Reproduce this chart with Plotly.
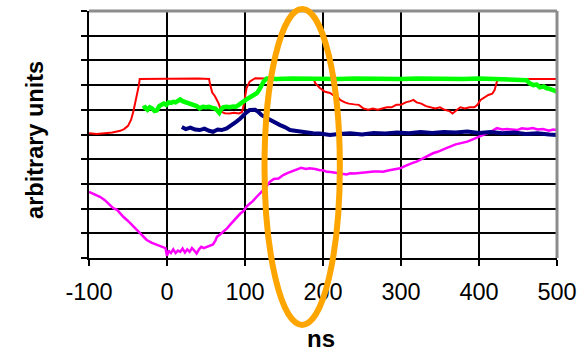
import plotly.graph_objects as go

# ---- data ----
red_x = [-100, -90, -80, -70, -60, -55, -50, -46, -43, -40, -38, -36, -35, -20, 0, 20, 40, 54,
         55, 58, 61.5, 66, 70, 74, 80, 86, 92, 96, 98, 102, 106, 113, 150, 188,
         190, 196, 202.6, 209, 213, 218, 222, 228, 233, 240, 246, 252, 258, 264, 270, 276,
         282, 288, 294, 300, 306, 312, 316, 320, 326, 332, 338, 344, 350, 356, 362, 366,
         370, 376, 382, 388, 394, 398, 402, 407, 412, 417, 420, 423, 426, 460, 500]
red_y = [5.05, 5.02, 5.05, 5.08, 5.15, 5.22, 5.35, 5.6, 5.95, 6.35, 6.7, 7.0, 7.25, 7.26, 7.25, 7.26, 7.27, 7.25,
         7.05, 6.7, 6.55, 6.27, 5.92, 5.86, 5.85, 5.88, 5.85, 5.9, 6.13, 6.88, 7.14, 7.28, 7.25, 7.25,
         7.08, 6.88, 6.73, 6.68, 6.6, 6.55, 6.4, 6.3, 6.25, 6.22, 6.2, 6.05, 6.0, 6.05, 6.0, 6.05,
         6.1, 6.1, 6.2, 6.2, 6.3, 6.35, 6.4, 6.3, 6.25, 6.15, 6.1, 6.05, 6.1, 6.0, 5.95, 5.85,
         5.95, 6.1, 6.05, 6.1, 6.1, 6.2, 6.4, 6.5, 6.6, 6.65, 6.8, 7.15, 7.25, 7.25, 7.25]

green_x = [-31, -28, -25, -22, -19, -16, -13, -10, -7, -4, -1, 2, 5, 8, 11, 14, 17, 20, 23, 26,
           30, 34, 38, 42, 46, 50, 54, 58, 62, 65, 67, 69, 72, 76, 80, 85, 88, 92, 96, 99,
           102, 106, 110, 115, 118, 121, 124, 128, 140, 160, 180, 200, 220, 240, 260, 280,
           300, 320, 340, 360, 380, 400, 420, 440, 456.8, 461, 465, 469.7, 474, 478, 483,
           486.8, 491, 495, 500]
green_y = [6.05, 6.1, 6.0, 6.1, 6.05, 5.95, 5.98, 6.15, 6.2, 6.25, 6.2, 6.3, 6.28, 6.32, 6.3, 6.38, 6.42, 6.35, 6.32, 6.3,
           6.22, 6.2, 6.15, 6.06, 6.12, 6.1, 6.12, 6.08, 6.05, 5.95, 5.88, 6.0, 6.1, 6.12, 6.1, 6.13, 6.12, 6.2, 6.3, 6.4,
           6.42, 6.5, 6.58, 6.67, 6.8, 7.0, 7.15, 7.27, 7.25, 7.27, 7.25, 7.26, 7.25, 7.27, 7.25, 7.26,
           7.25, 7.27, 7.25, 7.26, 7.25, 7.27, 7.25, 7.26, 7.25, 7.2, 7.07, 7.0, 7.02, 6.91, 6.95,
           6.87, 6.85, 6.8, 6.73]

navy_x = [19, 24, 30, 36, 42, 48, 54, 59, 65, 70, 76.5, 82, 89, 94, 98, 102, 106, 113, 117, 121,
          126, 132, 138, 145, 151, 157.7, 164, 170.5, 178, 187, 196, 209, 220, 235, 250, 265,
          280, 295, 310, 325, 340, 355, 370, 385, 400, 415, 430, 445, 460, 475, 490, 500]
navy_y = [5.3, 5.22, 5.28, 5.2, 5.18, 5.24, 5.15, 5.11, 5.2, 5.18, 5.25, 5.35, 5.52, 5.65, 5.79, 5.9, 5.99, 6.0, 5.92, 5.79,
          5.7, 5.59, 5.5, 5.38, 5.3, 5.18, 5.15, 5.11, 5.08, 5.05, 5.04, 4.98, 5.02, 5.05, 5.0, 5.06,
          5.04, 5.08, 5.05, 5.1, 5.06, 5.1, 5.08, 5.12, 5.06, 5.1, 5.05, 5.08, 5.02, 5.05, 5.0, 4.98]

mag_x = [-100, -95, -90, -86, -80, -75, -69, -64, -60, -56, -50, -43, -38, -33, -26, -20, -13, -7, -2, 0,
         2, 5, 8, 11, 14, 17, 20, 23, 26, 29, 32, 35, 38, 41, 44, 47, 51, 55, 59, 62,
         64, 68, 72, 77, 81, 85, 90, 94, 98, 102, 106, 110, 115, 120, 125, 132, 137, 143, 149, 155,
         160, 166, 172, 178, 183, 190, 196, 200, 205, 210, 218, 225, 230, 235, 240, 250, 258, 265, 272, 277,
         285, 292, 299, 305, 310, 315, 320, 326, 332, 337, 341, 347, 353, 358, 363, 370, 377, 385, 392, 401,
         410, 417, 423, 430, 436, 442, 449, 455, 462, 469, 475, 482, 490, 495, 500]
mag_y = [2.68, 2.6, 2.55, 2.48, 2.35, 2.2, 2.02, 1.95, 1.8, 1.67, 1.5, 1.27, 1.1, 0.95, 0.73, 0.62, 0.53, 0.48, 0.4, 0.08,
         0.3, 0.2, 0.35, 0.2, 0.3, 0.25, 0.38, 0.22, 0.35, 0.25, 0.4, 0.3, 0.18, 0.35, 0.45, 0.4, 0.46, 0.5, 0.55, 0.7,
         0.86, 0.95, 1.05, 1.2, 1.35, 1.5, 1.67, 1.8, 1.9, 2.08, 2.2, 2.3, 2.48, 2.65, 2.8, 3.09, 3.2, 3.22, 3.36, 3.45,
         3.5, 3.59, 3.65, 3.6, 3.63, 3.6, 3.55, 3.55, 3.49, 3.48, 3.45, 3.42, 3.38, 3.43, 3.42, 3.45, 3.48, 3.5, 3.5, 3.49,
         3.55, 3.58, 3.63, 3.72, 3.8, 3.85, 3.9, 4.0, 4.1, 4.2, 4.24, 4.3, 4.4, 4.45, 4.51, 4.6, 4.65, 4.71, 4.8, 4.91,
         5.05, 5.15, 5.26, 5.2, 5.22, 5.2, 5.18, 5.25, 5.22, 5.26, 5.2, 5.22, 5.15, 5.2, 5.18]

x_ticks = [-100, 0, 100, 200, 300, 400, 500]
x_labels = ["-100", "0", "100", "200", "300", "400", "500"]
y_ticks = list(range(0, 11))
x_title = "ns"
y_title = "arbitrary units"

FONT = "Liberation Sans, Arial, sans-serif"

fig = go.Figure()
fig.add_trace(go.Scatter(x=mag_x, y=mag_y, mode="lines", line=dict(color="#FF00FF", width=2.5), name="m"))
fig.add_trace(go.Scatter(x=navy_x, y=navy_y, mode="lines", line=dict(color="#000080", width=4), name="n"))
fig.add_trace(go.Scatter(x=red_x, y=red_y, mode="lines", line=dict(color="#FF0000", width=2), name="r"))
fig.add_trace(go.Scatter(x=green_x, y=green_y, mode="lines", line=dict(color="#00FF00", width=4.5), name="g"))

fig.update_layout(
    width=588, height=352,
    margin=dict(l=89, r=31, t=11, b=94),
    paper_bgcolor="white", plot_bgcolor="white",
    showlegend=False,
    font=dict(family=FONT, color="black"),
    xaxis=dict(range=[-100, 500], tickvals=x_ticks, ticktext=x_labels,
               showgrid=True, gridcolor="black", gridwidth=2, zeroline=False,
               showline=True, linecolor="black", linewidth=2,
               ticks="outside", ticklen=6, tickwidth=2, tickcolor="black",
               tickfont=dict(size=23.5, family=FONT, color="black"),
               ticklabelstandoff=6),
    yaxis=dict(range=[0, 10], tickvals=y_ticks, showticklabels=False,
               showgrid=True, gridcolor="black", gridwidth=2, zeroline=False,
               showline=True, linecolor="black", linewidth=2,
               ticks="outside", ticklen=6, tickwidth=2, tickcolor="black"),
    shapes=[
        dict(type="line", xref="paper", yref="paper", x0=0, x1=1, y0=1, y1=1,
             line=dict(color="#8c8c8c", width=3), layer="above"),
        dict(type="line", xref="paper", yref="paper", x0=1, x1=1, y0=0, y1=1,
             line=dict(color="#8c8c8c", width=3), layer="above"),
        dict(type="circle", xref="paper", yref="paper", x0=0.375, x1=0.536, y0=-0.271, y1=1.008,
             line=dict(color="#FFA500", width=6), layer="above"),
    ],
    annotations=[
        dict(text=f"<b>{x_title}</b>", xref="paper", yref="paper", x=0.4957, y=-0.326,
             xanchor="center", yanchor="middle", showarrow=False,
             font=dict(size=24, family=FONT, color="black")),
        dict(text=f"<b>{y_title}</b>", xref="paper", yref="paper", x=-0.1154, y=0.478,
             xanchor="center", yanchor="middle", showarrow=False, textangle=-90,
             font=dict(size=23.5, family=FONT, color="black")),
    ],
)

fig.write_html("out.html",
               config={"displayModeBar": False},
               post_script="document.body.style.margin='0px';document.body.style.overflow='hidden';")
